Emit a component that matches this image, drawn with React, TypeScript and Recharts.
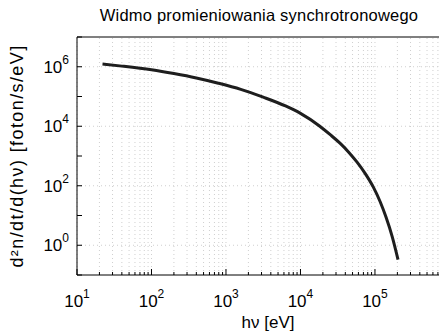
import React from "react";
import { LineChart, Line, XAxis, YAxis, ReferenceLine } from "recharts";

// Photon energy [eV] and spectral flux [photon/s/eV]
const energy = [22, 40, 100, 200, 400, 790, 1580, 3160, 6300, 10000, 18000, 25100, 33900, 44700, 57500, 74100, 95500, 117500, 141000, 170000, 204000];
const flux = [1.23e6, 1.05e6, 7.9e5, 5.9e5, 4.2e5, 2.8e5, 1.74e5, 9.5e4, 4.8e4, 2.7e4, 1.02e4, 5.2e3, 2.7e3, 1.32e3, 620, 255, 88, 29, 8.7, 2.0, 0.33];

const xMajorTicks = [10, 100, 1000, 10000, 100000];
const xTickExponents = ["1", "2", "3", "4", "5"];
const xMinorMultipliers = [2, 3, 4, 5, 6, 7, 8, 9];
const yTicks = [0.1, 1, 10, 100, 1000, 10000, 100000, 1e6, 1e7];
const yLabelled = [1, 100, 10000, 1e6];
const yLabelExponents = ["0", "2", "4", "6"];
const yGrid = [1, 100, 10000, 1e6];

const title = "Widmo promieniowania synchrotronowego";
const xLabel = "h\u03BD [eV]";
const yLabel = "d\u00B2n/dt/d(h\u03BD) [foton/s/eV]";

const X_MAX = 724000;
const FONT = "'Liberation Sans', Arial, Helvetica, sans-serif";
const GRID = "#cfcfcf";

const data = energy.map((e, i) => ({ e, f: flux[i] }));
const xMinor: number[] = [];
xMajorTicks.forEach((m) => xMinorMultipliers.forEach((k) => { if (m * k <= X_MAX) xMinor.push(m * k); }));
const xAllTicks = [...xMajorTicks, ...xMinor].sort((a, b) => a - b);

const XTick = (props: any) => {
  const { x, y, payload } = props;
  const idx = xMajorTicks.indexOf(payload.value);
  const major = idx >= 0;
  return (
    <g>
      <line x1={x} x2={x} y1={y} y2={y - (major ? 6 : 3)} stroke="#000" strokeWidth={1} />
      {major && (
        <text x={x} y={y + 32} textAnchor="middle" fontSize={17} fontFamily={FONT} fill="#000">
          <tspan>10</tspan>
          <tspan dy={-9} fontSize={12}>{xTickExponents[idx]}</tspan>
        </text>
      )}
    </g>
  );
};

const YTick = (props: any) => {
  const { x, y, payload } = props;
  const idx = yLabelled.indexOf(payload.value);
  return (
    <g>
      <line x1={x} x2={x + 5} y1={y} y2={y} stroke="#000" strokeWidth={1} />
      {idx >= 0 && (
        <text x={x - 8} y={y + 6} textAnchor="end" fontSize={17} fontFamily={FONT} fill="#000">
          <tspan>10</tspan>
          <tspan dy={-9} fontSize={12}>{yLabelExponents[idx]}</tspan>
        </text>
      )}
    </g>
  );
};

export default function App() {
  return (
    <div style={{ position: "fixed", left: 0, top: 0, width: 439, height: 336, overflow: "hidden", background: "#fff" }}>
      <LineChart width={439} height={336} data={data} margin={{ top: 37, right: 0, bottom: 0, left: 0 }}>
        <XAxis
          dataKey="e"
          type="number"
          scale="log"
          domain={[10, X_MAX]}
          ticks={xAllTicks}
          interval={0}
          height={61}
          tickSize={0}
          tickMargin={0}
          tickLine={false}
          tick={<XTick />}
          axisLine={{ stroke: "#000", strokeWidth: 1 }}
          allowDataOverflow
        />
        <YAxis
          type="number"
          scale="log"
          domain={[0.1, 1e7]}
          ticks={yTicks}
          interval={0}
          width={77}
          tickSize={0}
          tickMargin={0}
          tickLine={false}
          tick={<YTick />}
          axisLine={{ stroke: "#000", strokeWidth: 1 }}
          allowDataOverflow
        />
        {xAllTicks.map((v) => (
          <ReferenceLine key={"vx" + v} x={v} stroke={GRID} strokeDasharray="1 3" strokeWidth={1} />
        ))}
        {yGrid.map((v) => (
          <ReferenceLine key={"hy" + v} y={v} stroke={GRID} strokeDasharray="1 3" strokeWidth={1} />
        ))}
        <ReferenceLine y={1e7} stroke="#000" strokeWidth={1} />
        <Line
          dataKey="f"
          type="monotone"
          stroke="#1e1e1e"
          strokeWidth={3}
          dot={false}
          isAnimationActive={false}
        />
      </LineChart>
      <svg width={439} height={336} style={{ position: "absolute", left: 0, top: 0, pointerEvents: "none" }}>
        <text x={259} y={21} textAnchor="middle" fontSize={16.5} letterSpacing={0.2} fontFamily={FONT} fill="#000">{title}</text>
        <text x={268} y={328} textAnchor="middle" fontSize={17} fontFamily={FONT} fill="#000">{xLabel}</text>
        <text x={0} y={0} transform="translate(23,156) rotate(-90)" textAnchor="middle" fontSize={18} letterSpacing={1.4} fontFamily={FONT} fill="#000">{yLabel}</text>
      </svg>
    </div>
  );
}
